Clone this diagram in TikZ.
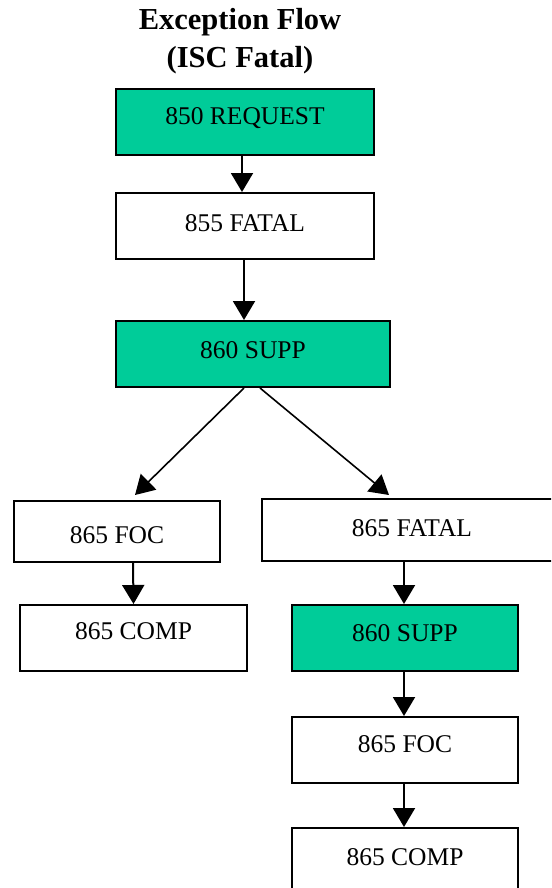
\documentclass[tikz,border=0pt]{standalone}
\usepackage{fontspec}
\setmainfont{Liberation Serif}
\usetikzlibrary{arrows.meta}
\definecolor{suppgreen}{HTML}{00CC99}
\tikzset{
  stepbox/.style={draw=black, line width=2pt, inner sep=0pt, text height=30pt,
    font=\fontsize{25.5}{30}\selectfont},
  greenbox/.style={stepbox, fill=suppgreen},
  whitebox/.style={stepbox, fill=white},
  flow/.style={line width=2pt, -{Triangle[length=19pt,width=22pt]}},
  branch/.style={line width=1.6pt, -{Triangle[length=19pt,width=22pt]}},
  heading/.style={font=\bfseries\fontsize{30.5}{38}\selectfont, inner sep=0pt, anchor=base}
}
\begin{document}
\begin{tikzpicture}[x=1pt,y=-1pt]
\useasboundingbox (0,0) rectangle (551,888);
\clip (0,0) rectangle (551,888);
\fill[white] (0,0) rectangle (551,888);

% heading
\node[heading] (title) at (240,30) {Exception Flow};
\node[heading] (subtitle) at (240,68) {(ISC Fatal)};

% main column
\node[greenbox, minimum width=258pt, minimum height=66pt, text depth=24.8pt] (req) at (245,122) {850 REQUEST};
\node[whitebox, minimum width=258pt, minimum height=66pt, text depth=18.8pt] (fatalA) at (245,226) {855 FATAL};
\node[greenbox, minimum width=274pt, minimum height=66pt, text depth=20.8pt] (suppA) at (253,354) {860 SUPP};

% left branch
\node[whitebox, minimum width=206pt, minimum height=61pt, text depth=5.8pt] (focA) at (117,531.5) {865 FOC};
\node[whitebox, minimum width=227pt, minimum height=66pt, text depth=26.8pt] (compA) at (133.5,638) {865 COMP};

% right branch
\node[whitebox, minimum width=300pt, minimum height=62pt, text depth=16.8pt] (fatalB) at (412,530) {865 FATAL};
\node[greenbox, minimum width=226pt, minimum height=66pt, text depth=22.8pt] (suppB) at (405,638) {860 SUPP};
\node[whitebox, minimum width=226pt, minimum height=66pt, text depth=24.8pt] (focB) at (405,750) {865 FOC};
\node[whitebox, minimum width=226pt, minimum height=66pt, text depth=20.8pt] (compB) at (405,861) {865 COMP};

% connectors
\draw[flow] ([xshift=-3pt]req.south) -- ([xshift=-3pt]fatalA.north);
\draw[flow] ([xshift=-1pt]fatalA.south) -- ([xshift=-9pt]suppA.north);
\draw[branch] ([xshift=-9pt]suppA.south) -- ([xshift=18pt,yshift=5pt]focA.north);
\draw[branch] ([xshift=7pt]suppA.south) -- ([xshift=-23pt,yshift=3pt]fatalB.north);
\draw[flow] ([xshift=16pt]focA.south) -- (compA.north);
\draw[flow] ([xshift=-8pt]fatalB.south) -- ([xshift=-1pt]suppB.north);
\draw[flow] ([xshift=-1pt]suppB.south) -- ([xshift=-1pt]focB.north);
\draw[flow] ([xshift=-1pt]focB.south) -- ([xshift=-1pt]compB.north);
\end{tikzpicture}
\end{document}
